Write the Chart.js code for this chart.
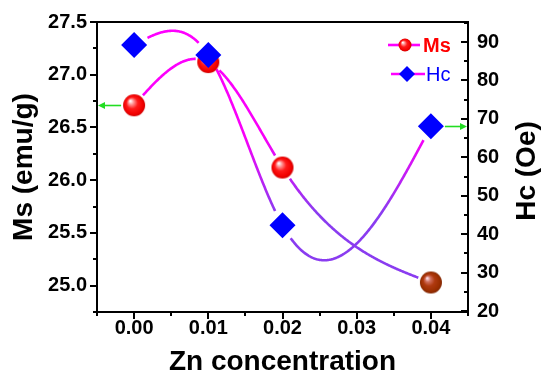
<!DOCTYPE html>
<html><head><meta charset="utf-8">
<script src="https://cdn.jsdelivr.net/npm/chart.js@4.4.1/dist/chart.umd.min.js"></script>
<style>html,body{margin:0;padding:0;background:#fff;}#wrap{width:550px;height:382px;}</style>
</head><body><div id="wrap"><canvas id="c" width="550" height="382"></canvas></div>
<script>
// ---- data ----
const zn = [0.00, 0.01, 0.02, 0.04];
const ms = [26.71, 27.12, 26.12, 25.03];
const hc = [89.2, 86.6, 42.3, 68.1];
const xTicks = [0.00, 0.01, 0.02, 0.03, 0.04];
const msTicks = [25.0, 25.5, 26.0, 26.5, 27.0, 27.5];
const hcTicks = [20, 30, 40, 50, 60, 70, 80, 90];
const seriesNames = ['Ms', 'Hc'];
const axisTitles = ['Zn concentration', 'Ms (emu/g)', 'Hc (Oe)'];

const FONT = 'Liberation Sans, Arial, sans-serif';
Chart.defaults.font.family = FONT;
Chart.defaults.color = '#000';

function drawSphere(ctx, x, y, r, dark) {
  const g = ctx.createRadialGradient(x - r * 0.35, y - r * 0.4, r * 0.04, x, y, r);
  if (!dark) {
    g.addColorStop(0, '#ffffff'); g.addColorStop(0.22, '#ff9090');
    g.addColorStop(0.5, '#ff1a1a'); g.addColorStop(0.85, '#f20000'); g.addColorStop(1, '#d00000');
  } else {
    g.addColorStop(0, '#ffe0ea'); g.addColorStop(0.22, '#d07060');
    g.addColorStop(0.5, '#b03a10'); g.addColorStop(0.85, '#9a2e00'); g.addColorStop(1, '#802400');
  }
  ctx.beginPath(); ctx.arc(x, y, r, 0, Math.PI * 2); ctx.fillStyle = g; ctx.fill();
}
function sphereCanvas(r, dark) {
  const c = document.createElement('canvas');
  c.width = c.height = Math.ceil(2 * r + 2);
  drawSphere(c.getContext('2d'), c.width / 2, c.height / 2, r, dark);
  return c;
}
const SPH_R = 11;
const sphRed = sphereCanvas(SPH_R, false);
const sphDark = sphereCanvas(SPH_R, true);

function naturalSpline(xs, ys) {
  const n = xs.length, h = [], M = new Array(n).fill(0);
  for (let i = 0; i < n - 1; i++) h.push(xs[i + 1] - xs[i]);
  const m = n - 2; const a = [], b = [], c = [], d = [];
  for (let i = 1; i <= m; i++) {
    a.push(h[i - 1]); b.push(2 * (h[i - 1] + h[i])); c.push(h[i]);
    d.push(6 * ((ys[i + 1] - ys[i]) / h[i] - (ys[i] - ys[i - 1]) / h[i - 1]));
  }
  for (let i = 1; i < m; i++) { const w = a[i] / b[i - 1]; b[i] -= w * c[i - 1]; d[i] -= w * d[i - 1]; }
  const sol = new Array(m);
  for (let i = m - 1; i >= 0; i--) sol[i] = (d[i] - (i < m - 1 ? c[i] * sol[i + 1] : 0)) / b[i];
  for (let i = 0; i < m; i++) M[i + 1] = sol[i];
  return function (x) {
    let k = 0; while (k < n - 2 && x > xs[k + 1]) k++;
    const hh = h[k], A = xs[k + 1] - x, B = x - xs[k];
    return M[k] * A * A * A / (6 * hh) + M[k + 1] * B * B * B / (6 * hh)
      + (ys[k] / hh - M[k] * hh / 6) * A + (ys[k + 1] / hh - M[k + 1] * hh / 6) * B;
  };
}

function minorVals(ticks, min, max) {
  const out = [], step = ticks[1] - ticks[0];
  for (let v = ticks[0] - step / 2; v <= max + 1e-9; v += step) if (v >= min - 1e-9) out.push(v);
  return out;
}
function seg(ctx, x1, y1, x2, y2) { ctx.beginPath(); ctx.moveTo(x1, y1); ctx.lineTo(x2, y2); ctx.stroke(); }

const splinePlugin = {
  id: 'splines',
  beforeDatasetsDraw(chart) {
    const ctx = chart.ctx, ca = chart.chartArea, xs = chart.scales.x;
    const grad = ctx.createLinearGradient(0, ca.top, 0, ca.bottom);
    grad.addColorStop(0, '#ff00ff'); grad.addColorStop(0.40, '#f800f8');
    grad.addColorStop(0.66, '#8a3cf0'); grad.addColorStop(1, '#8a3cf0');
    ctx.save();
    ctx.beginPath(); ctx.rect(ca.left, ca.top, ca.width, ca.height); ctx.clip();
    ctx.strokeStyle = grad; ctx.lineWidth = 2.6; ctx.lineJoin = 'round'; ctx.lineCap = 'butt';
    chart.data.datasets.forEach((ds, di) => {
      const meta = chart.getDatasetMeta(di);
      const ys = chart.scales[ds.yAxisID];
      const xv = ds.data.map(p => p.x), yv = ds.data.map(p => p.y);
      const f = naturalSpline(xv, yv);
      const pts = meta.data.map(e => ({ x: e.x, y: e.y }));
      const gap = ds.gapR;
      const N = 400; let drawing = false;
      ctx.beginPath();
      for (let i = 0; i <= N; i++) {
        const x = xv[0] + (xv[xv.length - 1] - xv[0]) * i / N;
        const px = xs.getPixelForValue(x), py = ys.getPixelForValue(f(x));
        const near = pts.some(p => Math.hypot(p.x - px, p.y - py) < gap);
        if (near) { drawing = false; continue; }
        if (!drawing) { ctx.moveTo(px, py); drawing = true; } else ctx.lineTo(px, py);
      }
      ctx.stroke();
    });
    ctx.restore();
  },
  afterDatasetsDraw(chart) {
    const ctx = chart.ctx, ca = chart.chartArea;
    // green arrows
    const pMs = chart.getDatasetMeta(0).data[0];
    const pHc = chart.getDatasetMeta(1).data[3];
    ctx.save();
    ctx.strokeStyle = '#22dd22'; ctx.fillStyle = '#22dd22'; ctx.lineWidth = 1.6;
    let y = Math.round(pMs.y) + 0.5;
    seg(ctx, pMs.x - SPH_R - 2, y, ca.left + 6, y);
    ctx.beginPath(); ctx.moveTo(ca.left + 1, y); ctx.lineTo(ca.left + 8, y - 3.5); ctx.lineTo(ca.left + 8, y + 3.5); ctx.closePath(); ctx.fill();
    y = Math.round(pHc.y) + 0.5;
    seg(ctx, pHc.x + 14, y, ca.right - 6, y);
    ctx.beginPath(); ctx.moveTo(ca.right - 1, y); ctx.lineTo(ca.right - 8, y - 3.5); ctx.lineTo(ca.right - 8, y + 3.5); ctx.closePath(); ctx.fill();
    ctx.restore();
  },
  afterDraw(chart) {
    const ctx = chart.ctx, ca = chart.chartArea;
    const sx = chart.scales.x, sy = chart.scales.y, sy2 = chart.scales.y2;
    ctx.save();
    ctx.strokeStyle = '#000'; ctx.lineWidth = 2;
    // top frame
    seg(ctx, ca.left - 1, ca.top, ca.right + 1, ca.top);
    // left ticks (outward)
    msTicks.forEach(v => { const p = Math.round(sy.getPixelForValue(v)); seg(ctx, ca.left - 7, p, ca.left, p); });
    minorVals(msTicks, sy.min, sy.max).forEach(v => { const p = Math.round(sy.getPixelForValue(v)); seg(ctx, ca.left - 4, p, ca.left, p); });
    // right ticks (inward)
    hcTicks.forEach(v => { const p = Math.round(sy2.getPixelForValue(v)); seg(ctx, ca.right - 7, p, ca.right, p); });
    minorVals(hcTicks, sy2.min, sy2.max).forEach(v => { const p = Math.round(sy2.getPixelForValue(v)); seg(ctx, ca.right - 4, p, ca.right, p); });
    // bottom ticks (outward)
    xTicks.forEach(v => { const p = Math.round(sx.getPixelForValue(v)); seg(ctx, p, ca.bottom, p, ca.bottom + 7); });
    minorVals(xTicks, sx.min, sx.max).forEach(v => { const p = Math.round(sx.getPixelForValue(v)); seg(ctx, p, ca.bottom, p, ca.bottom + 4); });
    // right axis title (reads bottom to top)
    ctx.fillStyle = '#000'; ctx.font = 'bold 28px ' + FONT;
    ctx.translate(527, (ca.top + ca.bottom) / 2 + 4); ctx.rotate(-Math.PI / 2);
    ctx.textAlign = 'center'; ctx.textBaseline = 'middle';
    ctx.fillText(axisTitles[2], 0, 0);
    ctx.restore();
    // legend
    ctx.save();
    ctx.lineWidth = 2.6; ctx.strokeStyle = '#ff00ff';
    const r1 = ca.top + 23, r2 = ca.top + 52;
    seg(ctx, ca.right - 80, r1, ca.right - 48, r1);
    drawSphere(ctx, ca.right - 63, r1, 6.5, false);
    ctx.font = 'bold 20px ' + FONT; ctx.fillStyle = '#ff0000'; ctx.textAlign = 'left'; ctx.textBaseline = 'middle';
    ctx.fillText(seriesNames[0], ca.right - 45, r1 + 1);
    seg(ctx, ca.right - 77, r2, ca.right - 43, r2);
    ctx.fillStyle = '#0000ff';
    ctx.beginPath(); ctx.moveTo(ca.right - 61, r2 - 8); ctx.lineTo(ca.right - 53, r2); ctx.lineTo(ca.right - 61, r2 + 8); ctx.lineTo(ca.right - 69, r2); ctx.closePath(); ctx.fill();
    ctx.font = '20px ' + FONT;
    ctx.fillText(seriesNames[1], ca.right - 42, r2 + 1);
    ctx.restore();
  }
};

const axisBorder = { display: true, color: '#000', width: 2 };
const noGrid = { display: false, drawTicks: false };
const tickFont = { size: 20, weight: 'bold', family: FONT };

new Chart(document.getElementById('c'), {
  type: 'scatter',
  data: {
    datasets: [
      {
        label: seriesNames[0], yAxisID: 'y', order: 1, gapR: SPH_R + 2,
        data: zn.map((x, i) => ({ x, y: ms[i] })),
        pointStyle: [sphRed, sphRed, sphRed, sphDark], pointRadius: SPH_R,
        backgroundColor: '#ff0000', borderColor: '#ff0000', borderWidth: 0
      },
      {
        label: seriesNames[1], yAxisID: 'y2', order: 0, gapR: 15,
        data: zn.map((x, i) => ({ x, y: hc[i] })),
        pointStyle: 'rectRot', pointRadius: 13,
        backgroundColor: '#0000ff', borderColor: '#0000ff', borderWidth: 0
      }
    ]
  },
  options: {
    responsive: false, devicePixelRatio: 1, animation: false,
    layout: { padding: { top: 20, left: 0, right: 0, bottom: 0 } },
    plugins: { legend: { display: false }, tooltip: { enabled: false } },
    scales: {
      x: {
        type: 'linear', position: 'bottom', min: -0.005, max: 0.045,
        afterBuildTicks: s => { s.ticks = xTicks.map(v => ({ value: v })); },
        afterFit: s => { s.height = 70; },
        grid: noGrid, border: axisBorder,
        ticks: { font: tickFont, color: '#000', padding: 4, maxRotation: 0, autoSkip: false, callback: v => Number(v).toFixed(2) },
        title: { display: true, text: axisTitles[0], color: '#000', font: { size: 28, weight: 'bold', family: FONT }, padding: { top: 0, bottom: 3 } }
      },
      y: {
        type: 'linear', position: 'left', min: 24.75, max: 27.5,
        afterBuildTicks: s => { s.ticks = msTicks.map(v => ({ value: v })); },
        afterFit: s => { s.width = 97; },
        grid: noGrid, border: axisBorder,
        ticks: { font: tickFont, color: '#000', padding: 10, callback: v => Number(v).toFixed(1) },
        title: { display: true, text: axisTitles[1], color: '#000', font: { size: 28, weight: 'bold', family: FONT }, padding: { top: 7, bottom: 0 } }
      },
      y2: {
        type: 'linear', position: 'right', min: 19.75, max: 95.2,
        afterBuildTicks: s => { s.ticks = hcTicks.map(v => ({ value: v })); },
        afterFit: s => { s.width = 82; },
        grid: noGrid, border: axisBorder,
        ticks: { font: tickFont, color: '#000', padding: 9, callback: v => Number(v).toFixed(0) }
      }
    }
  },
  plugins: [splinePlugin]
});
</script>
</body></html>
